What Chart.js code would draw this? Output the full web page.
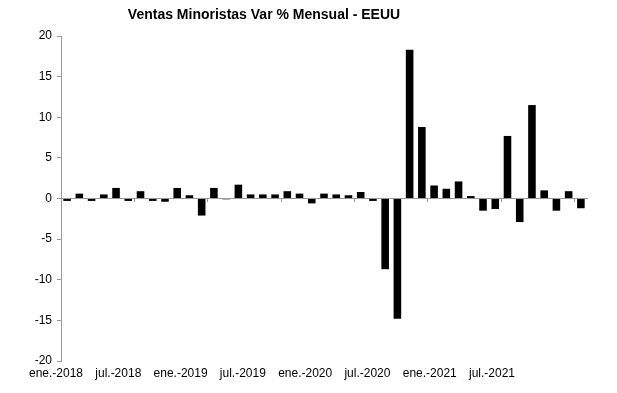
<!DOCTYPE html>
<html><head><meta charset="utf-8">
<script src="https://cdn.jsdelivr.net/npm/chart.js@4"></script>
<style>
html,body{margin:0;padding:0;background:#fff;}
#wrap{position:relative;width:617px;height:393px;}
canvas{position:absolute;left:0;top:0;}
#title{position:absolute;left:0;top:6px;width:528px;text-align:center;font:bold 14px "Liberation Sans",Arial,sans-serif;color:#000;}
</style></head><body>
<div id="wrap"><canvas id="c" width="617" height="393"></canvas><div id="title">Ventas Minoristas Var % Mensual - EEUU</div></div>
<script>
const months = [
 'ene.-2018','feb.-2018','mar.-2018','abr.-2018','may.-2018','jun.-2018','jul.-2018','ago.-2018','sep.-2018','oct.-2018','nov.-2018','dic.-2018',
 'ene.-2019','feb.-2019','mar.-2019','abr.-2019','may.-2019','jun.-2019','jul.-2019','ago.-2019','sep.-2019','oct.-2019','nov.-2019','dic.-2019',
 'ene.-2020','feb.-2020','mar.-2020','abr.-2020','may.-2020','jun.-2020','jul.-2020','ago.-2020','sep.-2020','oct.-2020','nov.-2020','dic.-2020',
 'ene.-2021','feb.-2021','mar.-2021','abr.-2021','may.-2021','jun.-2021','jul.-2021'
];
const ventasVar = [
 -0.3, 0.6, -0.3, 0.5, 1.3, -0.3, 0.9, -0.3, -0.4, 1.3, 0.4, -2.1,
 1.3, -0.1, 1.7, 0.5, 0.5, 0.5, 0.9, 0.6, -0.6, 0.6, 0.5, 0.4,
 0.8, -0.3, -8.7, -14.8, 18.3, 8.8, 1.6, 1.2, 2.1, 0.3, -1.5, -1.3,
 7.7, -2.9, 11.5, 1.0, -1.5, 0.9, -1.2
];
const tickLabels = ['ene.-2018','jul.-2018','ene.-2019','jul.-2019','ene.-2020','jul.-2020','ene.-2021','jul.-2021'];
const yTicks = [-20, -15, -10, -5, 0, 5, 10, 15, 20];

const font = {family: '"Liberation Sans", Arial, sans-serif', size: 12};
const axisGray = '#999999';

new Chart(document.getElementById('c'), {
  type: 'bar',
  data: {
    labels: months,
    datasets: [{
      data: ventasVar,
      backgroundColor: '#000000',
      borderWidth: 0,
      barPercentage: 0.62,
      categoryPercentage: 1.0,
      xAxisID: 'x',
      yAxisID: 'y'
    }]
  },
  options: {
    responsive: false,
    animation: false,
    layout: {padding: {top: 36, right: 30, left: 0, bottom: 0}},
    plugins: {legend: {display: false}, title: {display: false}, tooltip: {enabled: false}},
    scales: {
      x: {
        type: 'category',
        axis: 'x',
        position: {y: 0},
        offset: true,
        z: 1,
        ticks: {display: false},
        grid: {
          drawOnChartArea: false, drawTicks: true, tickLength: 3, offset: true,
          color: (c) => (c.index % 6 === 0 ? axisGray : 'rgba(0,0,0,0)')
        },
        border: {display: true, color: axisGray, width: 1}
      },
      y: {
        min: yTicks[0],
        max: yTicks[yTicks.length - 1],
        afterBuildTicks: (s) => { s.ticks = yTicks.map(v => ({value: v})); },
        ticks: {color: '#000', font: font, padding: 5},
        grid: {drawOnChartArea: false, drawTicks: true, tickLength: 4, color: axisGray},
        border: {display: true, color: axisGray, width: 1},
        afterFit: (s) => { s.width = 61; }
      },
      x2: {
        type: 'linear',
        axis: 'x',
        position: 'bottom',
        offset: false,
        min: 0.08,
        max: 8.525,
        afterBuildTicks: (s) => { s.ticks = tickLabels.map((_, i) => ({value: i})); },
        ticks: {
          autoSkip: false, maxRotation: 0, minRotation: 0, color: '#000', font: font, padding: -3,
          callback: (v, i) => tickLabels[i]
        },
        grid: {display: false, offset: false},
        border: {display: false},
        afterFit: (s) => { s.height = 32; }
      }
    }
  }
});
</script>
</body></html>
